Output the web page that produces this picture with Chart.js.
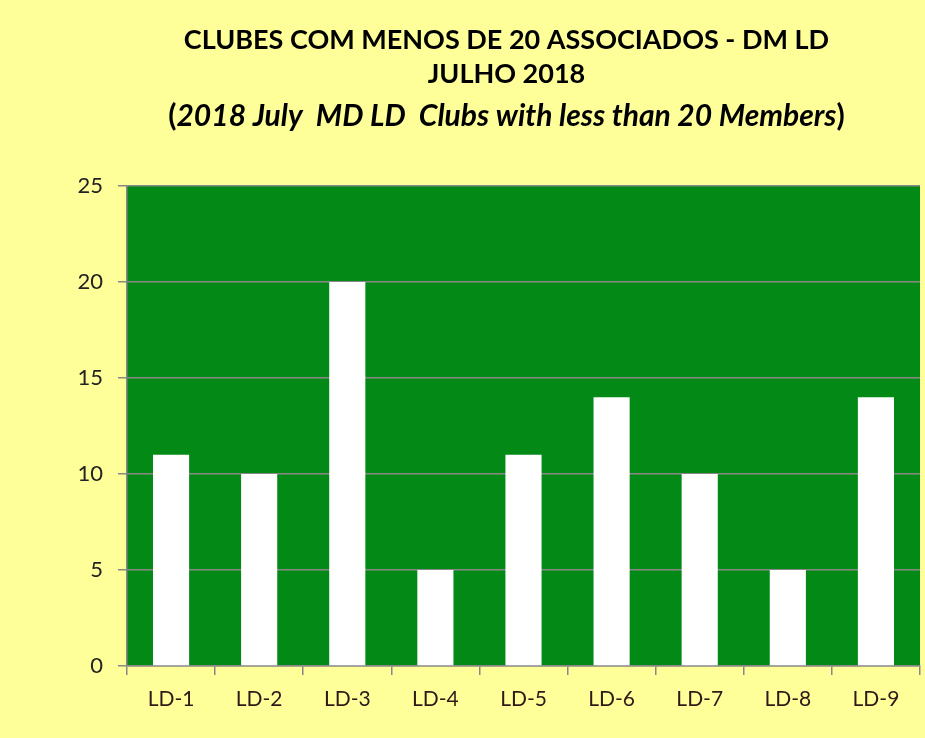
<!DOCTYPE html>
<html>
<head>
<meta charset="utf-8">
<script src="https://cdn.jsdelivr.net/npm/chart.js@4/dist/chart.umd.min.js"></script>
<style>
  html, body { margin: 0; padding: 0; background: #FFFF99; }
  #wrap { width: 925px; height: 738px; }
</style>
</head>
<body>
<div id="wrap"><canvas id="clubesChart" width="925" height="738"></canvas></div>
<script>
const distritos = ['LD-1', 'LD-2', 'LD-3', 'LD-4', 'LD-5', 'LD-6', 'LD-7', 'LD-8', 'LD-9'];
const clubesMenos20 = [11, 10, 20, 5, 11, 14, 10, 5, 14];
const tituloLinhas = ['CLUBES COM MENOS DE 20 ASSOCIADOS - DM LD', 'JULHO 2018'];
const subtitulo = '2018 July  MD LD  Clubs with less than 20 Members';

const fonte = "Lato, 'Open Sans', sans-serif";

// fundo verde so na area do grafico
const plotBg = {
  id: 'plotBg',
  beforeDraw(chart) {
    const {ctx, chartArea: a} = chart;
    ctx.save();
    ctx.fillStyle = '#038A16';
    ctx.fillRect(a.left, a.top, a.right - a.left, a.bottom - a.top);
    ctx.restore();
  }
};

// titulo desenhado a mao: o subtitulo mistura italico e parenteses normais
const tituloPlugin = {
  id: 'tituloPlugin',
  afterDraw(chart) {
    const {ctx, chartArea: a} = chart;
    const cx = (a.left + a.right) / 2 - 17;
    ctx.save();
    ctx.fillStyle = '#000';
    ctx.textBaseline = 'middle';
    ctx.textAlign = 'center';
    ctx.font = 'bold 27px ' + fonte;
    ctx.fillText(tituloLinhas[0], cx, 40);
    ctx.fillText(tituloLinhas[1], cx, 74);

    const normal = 'bold 30px ' + fonte;
    const italico = 'italic bold 30px ' + fonte;
    ctx.font = normal;
    const wp = ctx.measureText('(').width;
    const wf = ctx.measureText(')').width;
    ctx.font = italico;
    const wm = ctx.measureText(subtitulo).width;
    let x = cx - (wp + wm + wf) / 2;
    ctx.textAlign = 'left';
    ctx.font = normal;
    ctx.fillText('(', x, 116);
    x += wp;
    ctx.font = italico;
    ctx.fillText(subtitulo, x, 116);
    x += wm;
    ctx.font = normal;
    ctx.fillText(')', x, 116);
    ctx.restore();
  }
};

new Chart(document.getElementById('clubesChart'), {
  type: 'bar',
  data: {
    labels: distritos,
    datasets: [{
      data: clubesMenos20,
      backgroundColor: '#FFFFFF',
      borderWidth: 0,
      categoryPercentage: 0.82,
      barPercentage: 0.5
    }]
  },
  options: {
    responsive: false,
    animation: false,
    layout: { padding: { left: 20, right: 5, bottom: 10, top: 186 } },
    plugins: {
      legend: { display: false },
      tooltip: { enabled: false },
      title: { display: false }
    },
    scales: {
      x: {
        afterFit(scale) { scale.height = 62; },
        grid: { display: true, offset: true, drawOnChartArea: false, color: '#888', tickLength: 9, lineWidth: 1.5 },
        border: { color: '#888', width: 1.5 },
        ticks: { color: '#301818', font: { family: fonte, size: 21 }, padding: 12 }
      },
      y: {
        min: 0,
        max: 25,
        afterFit(scale) { scale.width = 107; },
        ticks: { stepSize: 5, color: '#222', font: { family: fonte, size: 22 }, padding: 15 },
        grid: { color: '#888', lineWidth: 1.5, tickLength: 9 },
        border: { color: '#888', width: 1.5 }
      }
    }
  },
  plugins: [plotBg, tituloPlugin]
});
</script>
</body>
</html>
